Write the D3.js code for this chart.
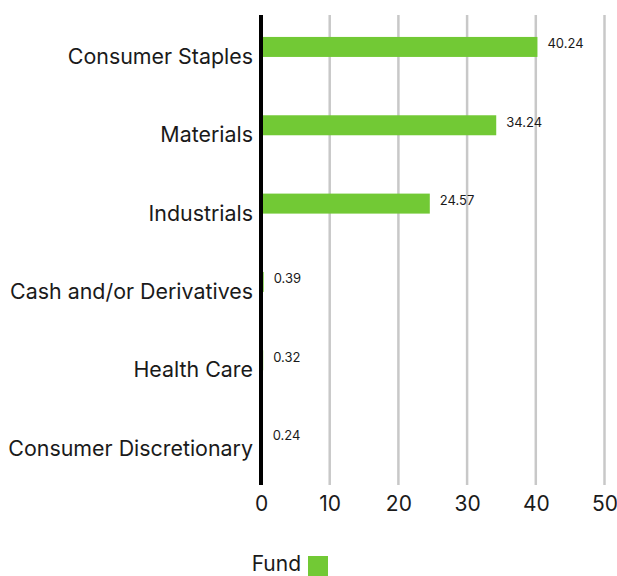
<!DOCTYPE html>
<html><head><meta charset="utf-8">
<script src="https://cdn.jsdelivr.net/npm/d3@7"></script>
<style>body{margin:0;background:#fff}svg{display:block}text{font-family:"Inter","Open Sans",sans-serif;fill:#1a1a1a}</style>
</head><body><svg id="c" width="617" height="576"></svg>
<script>
const categories = ["Consumer Staples","Materials","Industrials","Cash and/or Derivatives","Health Care","Consumer Discretionary"];
const fundValues = [40.24,34.24,24.57,0.39,0.32,0.24];
const xTicks = [0,10,20,30,40,50];
const seriesName = "Fund";
const barColor = "#72c935";

const svg = d3.select("#c");
const x = d3.scaleLinear().domain([0,50]).range([261,604.5]);
const y = d3.scaleBand().domain(categories).range([15,485]);
const bw = y.bandwidth();

svg.append("g").selectAll("line").data(xTicks.filter(t=>t>0)).join("line")
  .attr("x1",d=>x(d)).attr("x2",d=>x(d)).attr("y1",15).attr("y2",485)
  .attr("stroke","#c8c8c8").attr("stroke-width",2.5);

svg.append("g").selectAll("rect").data(categories).join("rect")
  .attr("x",x(0)).attr("y",d=>y(d)+bw*0.28).attr("height",20)
  .attr("width",(d,i)=>x(fundValues[i])-x(0)).attr("fill",barColor);

svg.append("g").selectAll("text").data(categories).join("text")
  .attr("x",(d,i)=>x(fundValues[i])+10).attr("y",d=>y(d)+bw*0.28+8)
  .attr("dominant-baseline","middle").attr("font-size",13).text((d,i)=>fundValues[i].toFixed(2));

svg.append("g").selectAll("text").data(categories).join("text")
  .attr("x",253).attr("y",d=>y(d)+bw/2+4).attr("text-anchor","end")
  .attr("dominant-baseline","middle").attr("font-size",21.4).text(d=>d);

const xa = svg.append("g").attr("transform","translate(0,485)")
  .call(d3.axisBottom(x).tickValues(xTicks).tickSize(0).tickPadding(11));
xa.select(".domain").remove();
xa.selectAll("text").attr("font-size",21).attr("font-family","Inter, Open Sans, sans-serif").attr("fill","#1a1a1a");

svg.append("line").attr("x1",x(0)).attr("x2",x(0)).attr("y1",15).attr("y2",485)
  .attr("stroke","#000").attr("stroke-width",4);

const lg = svg.append("g");
lg.append("text").attr("x",301).attr("y",565).attr("text-anchor","end").attr("font-size",21)
  .attr("dominant-baseline","middle").text(seriesName);
lg.append("rect").attr("x",308).attr("y",556).attr("width",20).attr("height",20).attr("fill",barColor);
</script></body></html>
